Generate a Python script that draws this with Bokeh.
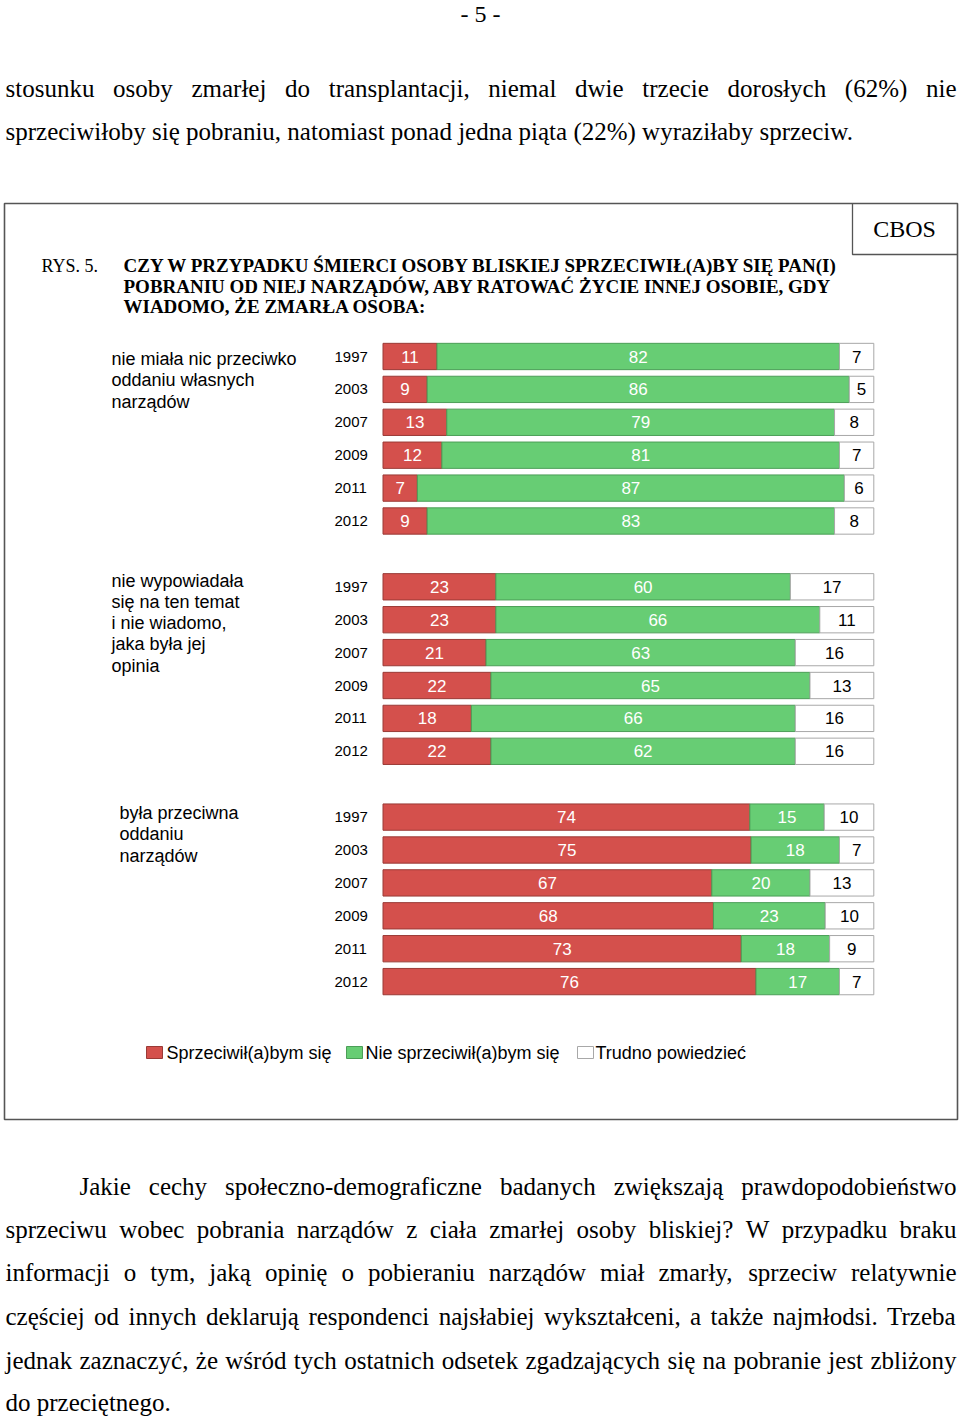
import numpy as np
from bokeh.plotting import figure
from bokeh.models import Range1d, ColumnDataSource
from bokeh.embed import file_html
from bokeh.resources import INLINE
from bokeh.core.properties import value

# ---------------- data ----------------
years = ["1997", "2003", "2007", "2009", "2011", "2012"]
group_labels = [
    ["nie miała nic przeciwko", "oddaniu własnych", "narządów"],
    ["nie wypowiadała", "się na ten temat", "i nie wiadomo,", "jaka była jej", "opinia"],
    ["była przeciwna", "oddaniu", "narządów"],
]
sprzeciw = [[11, 9, 13, 12, 7, 9], [23, 23, 21, 22, 18, 22], [74, 75, 67, 68, 73, 76]]
nie_sprzeciw = [[82, 86, 79, 81, 87, 83], [60, 66, 63, 65, 66, 62], [15, 18, 20, 23, 18, 17]]
trudno = [[7, 5, 8, 7, 6, 8], [17, 11, 16, 13, 16, 16], [10, 7, 13, 10, 9, 7]]
series_names = ["Sprzeciwił(a)bym się", "Nie sprzeciwił(a)bym się", "Trudno powiedzieć"]

title_lines = [
    "CZY W PRZYPADKU ŚMIERCI OSOBY BLISKIEJ SPRZECIWIŁ(A)BY SIĘ PAN(I)",
    "POBRANIU OD NIEJ NARZĄDÓW, ABY RATOWAĆ ŻYCIE INNEJ OSOBIE, GDY",
    "WIADOMO, ŻE ZMARŁA OSOBA:",
]
para1 = [
    "stosunku osoby zmarłej do transplantacji, niemal dwie trzecie dorosłych (62%) nie",
    "sprzeciwiłoby się pobraniu, natomiast ponad jedna piąta (22%) wyraziłaby sprzeciw.",
]
para2 = [
    "Jakie cechy społeczno-demograficzne badanych zwiększają prawdopodobieństwo",
    "sprzeciwu wobec pobrania narządów z ciała zmarłej osoby bliskiej? W przypadku braku",
    "informacji o tym, jaką opinię o pobieraniu narządów miał zmarły, sprzeciw relatywnie",
    "częściej od innych deklarują respondenci najsłabiej wykształceni, a także najmłodsi. Trzeba",
    "jednak zaznaczyć, że wśród tych ostatnich odsetek zgadzających się na pobranie jest zbliżony",
    "do przeciętnego.",
]

RED, RED_L = "#D4504C", "#9A3A36"
GREEN, GREEN_L = "#67CD74", "#4B9E57"
WHITE, WHITE_L = "#FFFFFF", "#A8A8A8"

SERIF = "Liberation Serif"
SANS = "Liberation Sans"

# ---------------- page geometry helpers (page px -> data units) ----------------
BAR_X0, PX_PER_PCT = 382.5, 4.908
ROW_Y0, PX_PER_ROW = 356.0, 32.9


def X(px):
    return (px - BAR_X0) / PX_PER_PCT


def Y(py):
    return (py - ROW_Y0) / PX_PER_ROW


# Times metrics (1/1000 em) used for justified body text
TW = {' ': 250, ',': 250, '.': 250, '-': 333, '?': 444, '(': 333, ')': 333, '%': 833,
      'a': 444, 'b': 500, 'c': 444, 'd': 500, 'e': 444, 'f': 333, 'g': 500, 'h': 500,
      'i': 278, 'j': 278, 'k': 500, 'l': 278, 'm': 778, 'n': 500, 'o': 500, 'p': 500,
      'q': 500, 'r': 333, 's': 389, 't': 278, 'u': 500, 'v': 500, 'w': 722, 'x': 500,
      'y': 500, 'z': 444, 'ł': 278, 'ą': 444, 'ę': 444, 'ś': 389, 'ż': 444, 'ó': 500,
      'ć': 444, 'ń': 500, 'ź': 444, 'J': 389, 'W': 944, 'T': 611}


def tw(s, size):
    return sum(TW.get(ch, 500 if ch.isdigit() else 560) for ch in s) * size / 1000.0


W_PX, H_PX = 960, 1416
p = figure(width=W_PX, height=H_PX, output_backend="svg", toolbar_location=None,
           x_range=Range1d(X(0), X(W_PX)), y_range=Range1d(Y(H_PX), Y(0)),
           min_border=0, tools="")
p.axis.visible = False
p.grid.visible = False
p.outline_line_color = None
p.background_fill_color = "white"
p.border_fill_color = "white"

# ---------------- body text ----------------
BODY = 25


def put(x, y, s, font=SERIF, size=BODY, align="left", style="normal", color="black"):
    p.text(x=[X(x)], y=[Y(y)], text=[s], text_font=value(font), text_font_size=f"{size}px",
           text_align=align, text_baseline="middle", text_font_style=style, text_color=color)


def justify(line, x0, x1, y, size=BODY):
    words = line.split(" ")
    widths = [tw(w, size) for w in words]
    gap = (x1 - x0 - sum(widths)) / (len(words) - 1)
    xs, cur = [], x0
    for wd in widths:
        xs.append(cur)
        cur += wd + gap
    p.text(x=[X(v) for v in xs], y=[Y(y)] * len(words), text=words, text_font=value(SERIF),
           text_font_size=f"{size}px", text_align="left", text_baseline="middle")


put(480, 13, "- 5 -", size=24, align="center")
justify(para1[0], 5, 956, 88)
put(5, 131, para1[1])

line_ys = [1186, 1229, 1272, 1316, 1360, 1402]
for k, line in enumerate(para2):
    if k == len(para2) - 1:
        put(5, line_ys[k], line)
    else:
        justify(line, 79 if k == 0 else 5, 956, line_ys[k])

# ---------------- frame ----------------
p.quad(left=[X(4)], right=[X(957)], bottom=[Y(1119)], top=[Y(203)], fill_color=None,
       line_color="#555555", line_width=1.6)
p.line(x=[X(852), X(852), X(957)], y=[Y(203), Y(254), Y(254)], line_color="#555555", line_width=1.3)
put(904, 228, "CBOS", size=24, align="center")

put(41, 265, "RYS. 5.", size=18)
for k, t in enumerate(title_lines):
    put(123, 265 + k * 20.5, t, size=19, style="bold")

# ---------------- bars ----------------
rows, ylab = [], []
segs = {0: dict(l=[], r=[], y=[], t=[]), 1: dict(l=[], r=[], y=[], t=[]), 2: dict(l=[], r=[], y=[], t=[])}
for g in range(3):
    for i, yr in enumerate(years):
        row = g * 7 + i
        vals = [sprzeciw[g][i], nie_sprzeciw[g][i], trudno[g][i]]
        tot = float(sum(vals))
        cum = np.concatenate([[0], np.cumsum(vals)]) / tot * 100
        for s in range(3):
            segs[s]["l"].append(cum[s])
            segs[s]["r"].append(cum[s + 1])
            segs[s]["y"].append(row)
            segs[s]["t"].append(str(vals[s]))
        rows.append(row)
        ylab.append(yr)

styles = [(RED, RED_L, "white"), (GREEN, GREEN_L, "white"), (WHITE, WHITE_L, "black")]
for s in range(3):
    d = segs[s]
    src = ColumnDataSource(dict(left=d["l"], right=d["r"], y=d["y"], t=d["t"],
                                xc=[(a + b) / 2 for a, b in zip(d["l"], d["r"])]))
    fc, lc, tc = styles[s]
    p.hbar(y="y", left="left", right="right", height=0.8, source=src, fill_color=fc,
           line_color=lc, line_width=1)
    p.text(x="xc", y="y", text="t", source=src, text_font=value(SANS), text_font_size="17px",
           text_align="center", text_baseline="middle", text_color=tc)

p.text(x=[X(334)] * len(rows), y=rows, text=ylab, text_font=value(SANS), text_font_size="15px",
       text_align="left", text_baseline="middle")

# group labels
label_pos = [(111, 358, 21.7), (111, 580, 21.3), (119, 812, 21.5)]
for g, lines in enumerate(group_labels):
    x0, y0, dy = label_pos[g]
    for k, t in enumerate(lines):
        put(x0, y0 + k * dy, t, font=SANS, size=18)

# ---------------- legend ----------------
leg = [(146, 166), (346, 365), (577, 595)]
for s, (bx, tx) in enumerate(leg):
    fc, lc, _ = styles[s]
    p.quad(left=[X(bx)], right=[X(bx + 16)], top=[Y(1046)], bottom=[Y(1058)], fill_color=fc,
           line_color=lc, line_width=1)
    put(tx, 1052, series_names[s], font=SANS, size=18)

open("out.html", "w").write(file_html(p, INLINE))
